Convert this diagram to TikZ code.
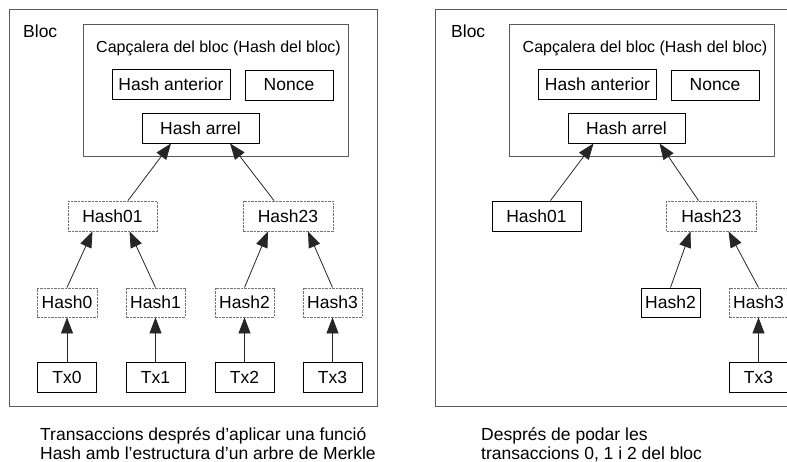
\documentclass[tikz,border=0pt]{standalone}
\usepackage{fontspec}
\setmainfont{Liberation Sans}
\usetikzlibrary{arrows.meta, calc}

\begin{document}
\begin{tikzpicture}[
    x=1pt, y=-1pt, % pixel-like units
    arrow/.style={
        -{Triangle[length=16pt,width=12pt]},
        line width=0.8pt,
        draw=black!85
    },
    block/.style={
        rectangle,
        draw=black!65,
        line width=1pt,
        inner sep=0pt
    },
    box/.style={
        rectangle,
        draw,
        line width=0.9pt,
        inner sep=0pt,
        minimum height=30pt,
        font=\fontsize{17.5}{19}\selectfont
    },
    hashbox/.style={ % hash that can be pruned
        box,
        draw=black!55,
        dash pattern=on 2.5pt off 1pt
    },
    caption/.style={
        anchor=north west,
        align=left,
        inner sep=0pt,
        font=\fontsize{17.5}{19}\selectfont
    }
]
    \useasboundingbox (0,0) rectangle (787,462);
    \clip (0,0) rectangle (787,462);

    % Left block: full Merkle tree
    \node[block, minimum width=368pt, minimum height=396pt] (bloc1) at (193,208) {};
    \node[anchor=west, inner sep=0pt, font=\fontsize{17.5}{19}\selectfont] (bloct1) at (23,31) {Bloc};
    \node[block, minimum width=265pt, minimum height=132pt] (cap1) at (215.5,91) {};
    \node[anchor=base, inner sep=0pt, font=\fontsize{16}{19}\selectfont] (capt1) at (218.5,53) {Capçalera del bloc (Hash del bloc)};
    \node[box, minimum width=118pt] (hant1) at (171,84) {Hash anterior};
    \node[box, minimum width=88pt] (nonce1) at (289,85) {Nonce};
    \node[box, minimum width=117pt] (arrel1) at (200.5,128) {Hash arrel};

    \node[hashbox, minimum width=89pt] (h01a) at (112.5,216) {Hash01};
    \node[hashbox, minimum width=90pt] (h23a) at (288,216) {Hash23};

    \node[hashbox, minimum width=60pt, minimum height=29pt] (h0a) at (67,302.5) {Hash0};
    \node[hashbox, minimum width=59pt, minimum height=29pt] (h1a) at (155.5,302.5) {Hash1};
    \node[hashbox, minimum width=59pt, minimum height=29pt] (h2a) at (244.5,302.5) {Hash2};
    \node[hashbox, minimum width=59pt, minimum height=29pt] (h3a) at (332.5,302.5) {Hash3};

    \node[box, minimum width=59pt] (tx0a) at (67,377) {Tx0};
    \node[box, minimum width=59pt] (tx1a) at (155.5,377) {Tx1};
    \node[box, minimum width=59pt] (tx2a) at (244.5,377) {Tx2};
    \node[box, minimum width=59pt] (tx3a) at (332.5,377) {Tx3};

    \draw[arrow] (tx0a) -- (h0a);
    \draw[arrow] (tx1a) -- (h1a);
    \draw[arrow] (tx2a) -- (h2a);
    \draw[arrow] (tx3a) -- (h3a);
    \draw[arrow] (h0a.north) -- ([xshift=-20pt]h01a.south);
    \draw[arrow] (h1a.north) -- ([xshift=17pt]h01a.south);
    \draw[arrow] (h2a.north) -- ([xshift=-20pt]h23a.south);
    \draw[arrow] (h3a.north) -- ([xshift=20pt]h23a.south);
    \draw[arrow] ([xshift=15.5pt]h01a.north) -- ([xshift=-29.5pt]arrel1.south);
    \draw[arrow] ([xshift=-14pt]h23a.north) -- ([xshift=29.5pt]arrel1.south);

    \node[caption] (capl) at (40,427) {Transaccions després d’aplicar una funció\\Hash amb l’estructura d’un arbre de Merkle};

    % Right block: after pruning
    \node[block, minimum width=368pt, minimum height=396pt] (bloc2) at (619,208) {};
    \node[anchor=west, inner sep=0pt, font=\fontsize{17.5}{19}\selectfont] (bloct2) at (451,31) {Bloc};
    \node[block, minimum width=265pt, minimum height=132pt] (cap2) at (641.5,91) {};
    \node[anchor=base, inner sep=0pt, font=\fontsize{16}{19}\selectfont] (capt2) at (645,53) {Capçalera del bloc (Hash del bloc)};
    \node[box, minimum width=118pt] (hant2) at (597.5,84) {Hash anterior};
    \node[box, minimum width=88pt] (nonce2) at (715,85) {Nonce};
    \node[box, minimum width=117pt] (arrel2) at (626.5,128) {Hash arrel};

    \node[box, minimum width=89pt] (h01b) at (536.5,216) {Hash01};
    \node[hashbox, minimum width=90pt] (h23b) at (711.5,216) {Hash23};
    \node[box, minimum width=59pt, minimum height=29pt] (h2b) at (670.5,302.5) {Hash2};
    \node[hashbox, minimum width=59pt, minimum height=29pt] (h3b) at (758.5,302.5) {Hash3};
    \node[box, minimum width=59pt] (tx3b) at (758.5,377) {Tx3};

    \draw[arrow] (tx3b) -- (h3b);
    \draw[arrow] (h2b.north) -- ([xshift=-21pt]h23b.south);
    \draw[arrow] (h3b.north) -- ([xshift=17pt]h23b.south);
    \draw[arrow] ([xshift=14pt]h01b.north) -- ([xshift=-33pt]arrel2.south);
    \draw[arrow] ([xshift=-13pt]h23b.north) -- ([xshift=33pt]arrel2.south);

    \node[caption] (capr) at (481,427) {Després de podar les\\transaccions 0, 1 i 2 del bloc};
\end{tikzpicture}
\end{document}
